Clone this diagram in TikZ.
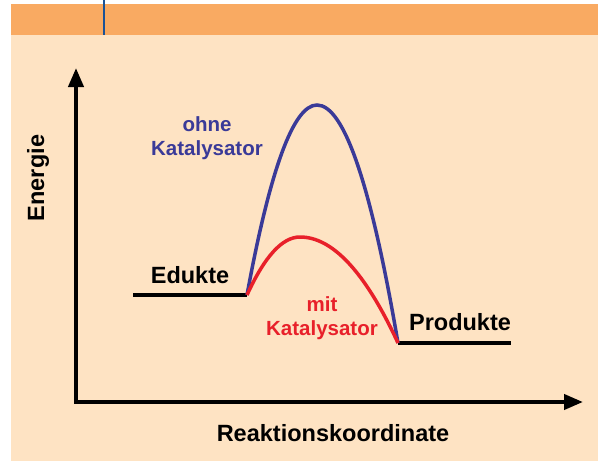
\documentclass[tikz,border=0pt]{standalone}
\usepackage{fontspec}
\setmainfont{Liberation Sans}
\usetikzlibrary{arrows.meta,positioning}

\definecolor{bandorange}{HTML}{F9AA62}
\definecolor{paper}{HTML}{FEE3C3}
\definecolor{barblue}{HTML}{1B5296}
\definecolor{curveblue}{HTML}{3A3A98}
\definecolor{curvered}{HTML}{E8202A}

\begin{document}
\begin{tikzpicture}[
    x=1pt, y=-1pt,
    axis/.style={line width=4pt, {Triangle[length=19pt,width=15pt]}-{Triangle[length=19pt,width=15pt]}},
    level/.style={line width=3.5pt},
    curve/.style={line width=3.5pt},
    biglabel/.style={font=\fontsize{23.5}{28}\selectfont\bfseries, inner sep=0pt},
    smalllabel/.style={font=\fontsize{20.5}{24}\selectfont\bfseries, align=center, inner sep=0pt}
]
\useasboundingbox (0,0) rectangle (598,461);

% Background
\fill[paper] (11,35) rectangle (598,461);
\fill[bandorange] (11,4) rectangle (598,35);
\draw[barblue, line width=1.6pt] (104,0) -- (104,35);

% Axes
\coordinate (origin) at (76,402);
\coordinate (ymax) at (76,68);
\coordinate (xmax) at (583,402);
\draw[axis] (ymax) |- (xmax);

% Energy levels
\coordinate (eduktL) at (133,295);
\coordinate (eduktR) at (247,295);
\coordinate (produktL) at (398,343);
\coordinate (produktR) at (511,343);
\coordinate (peakOhne) at (317,105);
\coordinate (peakMit) at (300,237);
\draw[level] (eduktL) -- (eduktR);
\draw[level] (produktL) -- (produktR);

% Curves
\draw[curve, curveblue] (eduktR) .. controls +(23.3,-126.7) and +(-23.3,0) .. (peakOhne)
    .. controls +(27,0) and +(-27,-158.7) .. (produktL);
\draw[curve, curvered] (eduktR) .. controls +(17.7,-38.7) and +(-17.7,0) .. (peakMit)
    .. controls +(32.7,0) and +(-32.7,-70.7) .. (produktL);

% Labels
\node[biglabel] (edukte) at (190,275) {Edukte};
\node[biglabel] (produkte) at (460,322) {Produkte};
\node[biglabel] (xlabel) at (333,433) {Reaktionskoordinate};
\node[biglabel, rotate=90] (ylabel) at (38,178) {Energie};
\node[smalllabel, text=curveblue] (ohne) at (207,138) {ohne\\Katalysator};
\node[smalllabel, text=curvered] (mit) at (322,318) {mit\\Katalysator};

\end{tikzpicture}
\end{document}
